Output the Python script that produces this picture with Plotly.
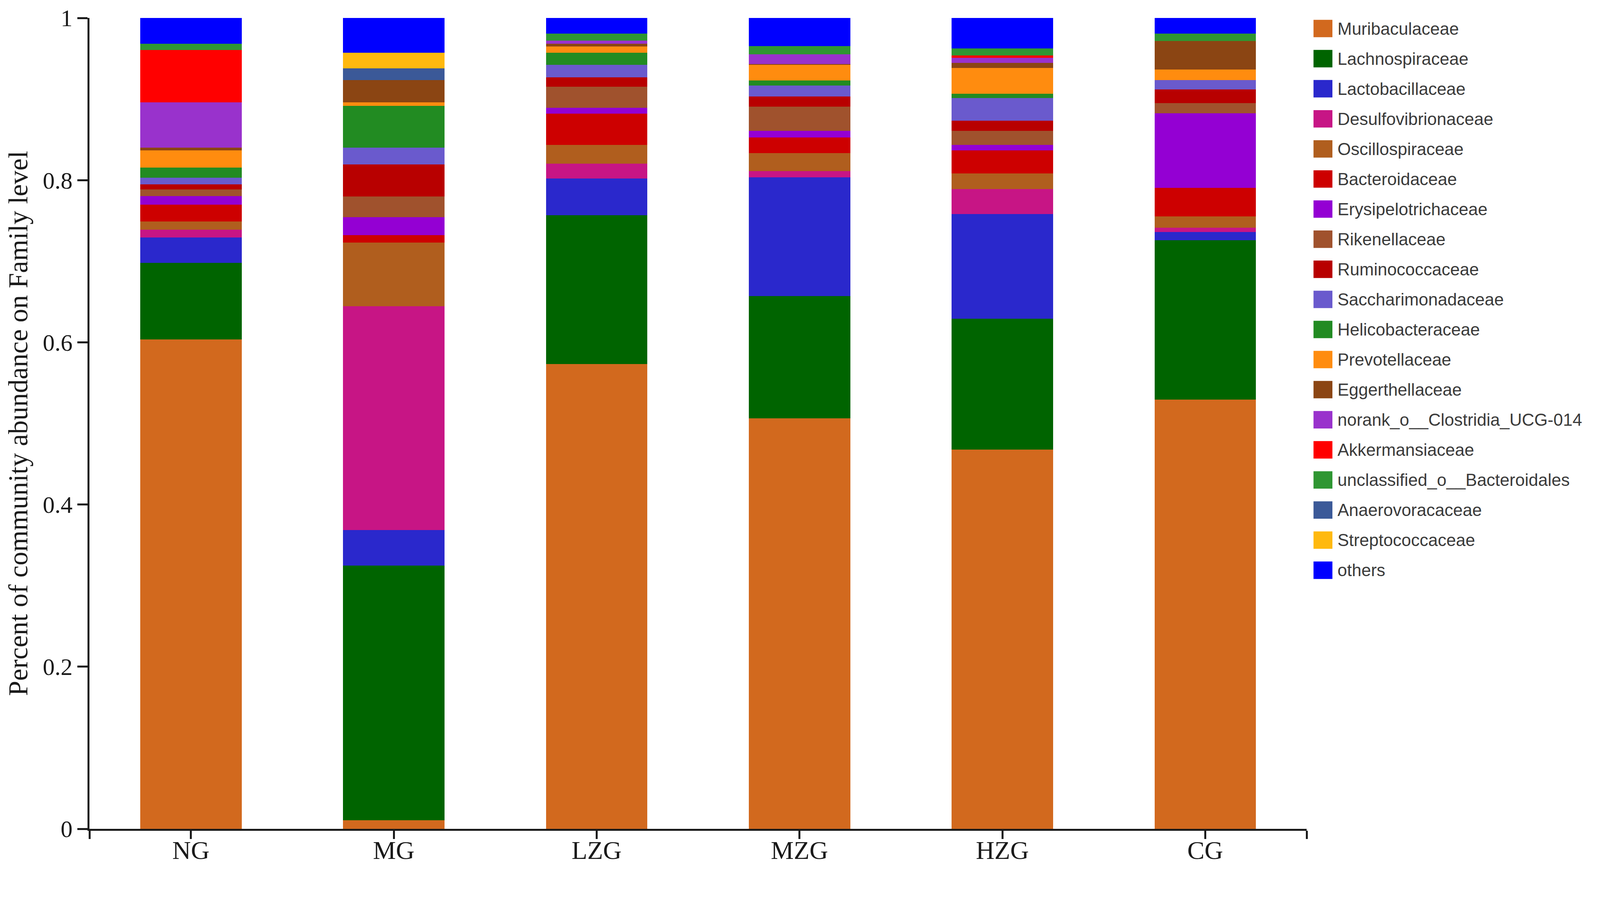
"""
Stacked community composition chart (family level)
"""

import plotly.graph_objects as go

# Groups on the x axis
groups = ["NG", "MG", "LZG", "MZG", "HZG", "CG"]

# Relative abundance per family, one value per group (NG, MG, LZG, MZG, HZG, CG)
muribaculaceae = [0.6036, 0.0106, 0.5732, 0.5063, 0.4679, 0.5295]
lachnospiraceae = [0.0946, 0.3139, 0.1837, 0.1506, 0.1614, 0.1962]
lactobacillaceae = [0.0311, 0.0438, 0.0451, 0.1465, 0.1287, 0.0102]
desulfovibrionaceae = [0.0094, 0.2762, 0.0182, 0.0077, 0.0311, 0.0055]
oscillospiraceae = [0.0104, 0.0785, 0.0234, 0.0220, 0.0193, 0.0138]
bacteroidaceae = [0.0207, 0.0091, 0.0386, 0.0194, 0.0283, 0.0353]
erysipelotrichaceae = [0.0105, 0.0220, 0.0069, 0.0082, 0.0067, 0.0922]
rikenellaceae = [0.0080, 0.0259, 0.0259, 0.0298, 0.0173, 0.0124]
ruminococcaceae = [0.0063, 0.0394, 0.0118, 0.0129, 0.0124, 0.0166]
saccharimonadaceae = [0.0082, 0.0207, 0.0152, 0.0132, 0.0281, 0.0115]
helicobacteraceae = [0.0125, 0.0517, 0.0151, 0.0061, 0.0055, 0.0]
prevotellaceae = [0.0214, 0.0042, 0.0075, 0.0193, 0.0317, 0.0133]
eggerthellaceae = [0.0033, 0.0272, 0.0035, 0.0014, 0.0063, 0.0350]
norank_clostridia = [0.0560, 0.0, 0.0042, 0.0118, 0.0061, 0.0]
akkermansiaceae = [0.0644, 0.0, 0.0, 0.0, 0.0028, 0.0]
unclassified_bacteroidales = [0.0077, 0.0, 0.0082, 0.0102, 0.0090, 0.0090]
anaerovoracaceae = [0.0, 0.0146, 0.0, 0.0, 0.0, 0.0]
streptococcaceae = [0.0, 0.0193, 0.0, 0.0, 0.0, 0.0]
others = [0.0319, 0.0429, 0.0195, 0.0346, 0.0374, 0.0195]

# Y axis ticks
y_ticks = [0, 0.2, 0.4, 0.6, 0.8, 1]
y_ticktext = ["0", "0.2", "0.4", "0.6", "0.8", "1"]

# Stacking order, bottom to top (same as legend order)
families = [
    ("Muribaculaceae", muribaculaceae, "#D2691E"),
    ("Lachnospiraceae", lachnospiraceae, "#006400"),
    ("Lactobacillaceae", lactobacillaceae, "#2A28CC"),
    ("Desulfovibrionaceae", desulfovibrionaceae, "#C71585"),
    ("Oscillospiraceae", oscillospiraceae, "#B05E1E"),
    ("Bacteroidaceae", bacteroidaceae, "#CD0000"),
    ("Erysipelotrichaceae", erysipelotrichaceae, "#9400D3"),
    ("Rikenellaceae", rikenellaceae, "#A0522D"),
    ("Ruminococcaceae", ruminococcaceae, "#B80000"),
    ("Saccharimonadaceae", saccharimonadaceae, "#6A5ACD"),
    ("Helicobacteraceae", helicobacteraceae, "#228B22"),
    ("Prevotellaceae", prevotellaceae, "#FF8C0F"),
    ("Eggerthellaceae", eggerthellaceae, "#8B4513"),
    ("norank_o__Clostridia_UCG-014", norank_clostridia, "#9932CC"),
    ("Akkermansiaceae", akkermansiaceae, "#FF0000"),
    ("unclassified_o__Bacteroidales", unclassified_bacteroidales, "#2F9632"),
    ("Anaerovoracaceae", anaerovoracaceae, "#3B5998"),
    ("Streptococcaceae", streptococcaceae, "#FFB90F"),
    ("others", others, "#0000FF"),
]

# The page is shown a bit scaled up, so work in page px
K = 4317 / 4096
def px(d):
    return d / K - 8

W, H = 4080, 2204
L = round(px(241))
R = W - round(px(3525))
T = 38  # room for the "1" label above the top tick
B = H - round(px(2236))
plot_w = W - L - R
plot_h = H - T - B

x_pos = list(range(len(groups)))

fig = go.Figure()
for name, values, color in families:
    fig.add_trace(go.Bar(
        x=x_pos,
        y=values,
        name=name,
        marker=dict(color=color, line=dict(width=0)),
        showlegend=False,
    ))

# Legend drawn as swatches + labels so the colour blocks keep their size
row_gap = 81.2 / K
first_row = px(77)
half = 23.5 / K
shapes = []
annotations = []
for i, (name, values, color) in enumerate(families):
    cy = first_row + i * row_gap
    shapes.append(dict(
        type="rect", xref="paper", yref="paper",
        x0=(px(3544) - L) / plot_w, x1=(px(3595) - L) / plot_w,
        y0=(H - B - (cy + half)) / plot_h,
        y1=(H - B - (cy - half)) / plot_h,
        fillcolor=color, line=dict(width=0),
    ))
    annotations.append(dict(
        xref="paper", yref="paper",
        x=(px(3607) - L) / plot_w, y=(H - B - cy) / plot_h,
        text=name, showarrow=False,
        xanchor="left", yanchor="middle",
        font=dict(family="Liberation Sans, Arial", size=44, color="#3a3a3a"),
    ))

fig.update_layout(
    barmode="stack",
    bargap=0.5,
    width=W,
    height=H,
    margin=dict(l=L, r=R, t=T, b=B, autoexpand=False),
    paper_bgcolor="white",
    plot_bgcolor="white",
    font=dict(family="Liberation Serif, Times New Roman", color="#1a1a1a"),
    shapes=shapes,
    annotations=annotations,
    xaxis=dict(
        range=[-0.5, len(groups) - 0.5],
        tickvals=[-0.5] + x_pos + [len(groups) - 0.5],
        ticktext=[""] + groups + [""],
        showline=True, linecolor="#1a1a1a", linewidth=5,
        ticks="outside", ticklen=21, tickwidth=5, tickcolor="#1a1a1a",
        tickfont=dict(size=66, color="#1a1a1a"),
        ticklabelstandoff=-28,
        showgrid=False, zeroline=False,
    ),
    yaxis=dict(
        range=[0, 1],
        tickvals=y_ticks,
        ticktext=y_ticktext,
        showline=True, linecolor="#1a1a1a", linewidth=5,
        ticks="outside", ticklen=26, tickwidth=5, tickcolor="#1a1a1a",
        tickfont=dict(size=61, color="#1a1a1a"),
        ticklabeloverflow="allow",
        showgrid=False, zeroline=False,
        title=dict(
            text="Percent of community abundance on Family level",
            font=dict(size=70, color="#1a1a1a"),
            standoff=28,
        ),
    ),
)

fig.write_html("out.html")
